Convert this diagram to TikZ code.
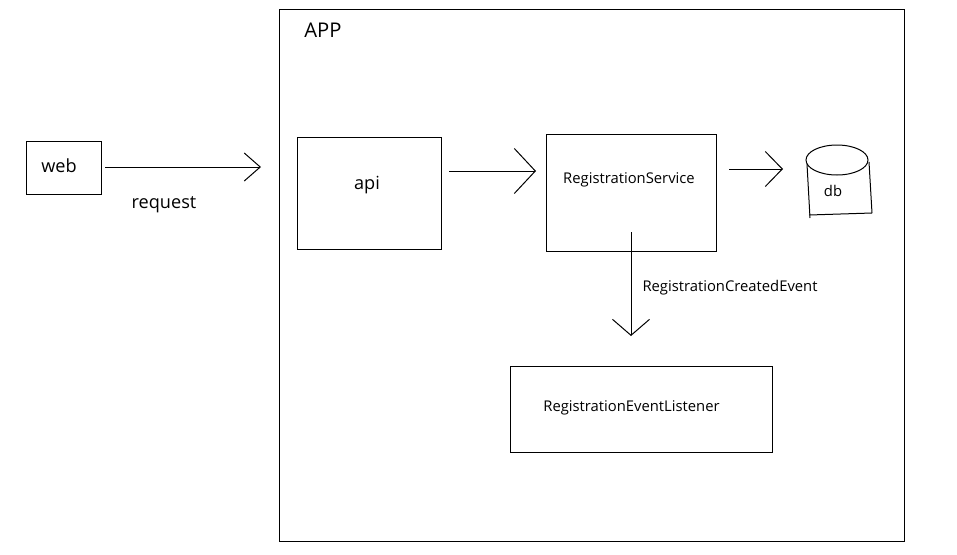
\documentclass[tikz,border=0pt]{standalone}
\usepackage{fontspec}
\setmainfont{Open Sans}
\usetikzlibrary{arrows.meta}
\begin{document}
\begin{tikzpicture}[x=0.75pt,y=-0.75pt,line width=0.75pt,
  box/.style 2 args={draw, rectangle, minimum width=#1*0.75pt, minimum height=#2*0.75pt, inner sep=0pt},
  lbl/.style={inner sep=0pt, font=\fontsize{11.1}{13}\selectfont},
  big/.style={inner sep=0pt, font=\fontsize{13.6}{16}\selectfont}]
\useasboundingbox (0,0) rectangle (957,554);
% boxes
\node[box={625}{532}] (app) at (591.5,275) {};
\node[inner sep=0pt, font=\fontsize{15.2}{18}\selectfont] (applbl) at (323,30) {APP};
\node[box={75}{53}] (web) at (63.5,167.5) {};
\node[big] (webt) at (59,166) {web};
\node[big] (req) at (164,205) {request};
\node[box={144}{112}] (api) at (369,193) {};
\node[big] (apit) at (367,185) {api};
\node[box={170}{117}] (rs) at (631,192.5) {};
\node[lbl] (rst) at (629,180) {RegistrationService};
\node[box={262}{86}] (rel) at (641,409) {};
\node[lbl] (relt) at (631.5,408) {RegistrationEventListener};
\node[lbl, anchor=west] (evt) at (642,288) {RegistrationCreatedEvent};
% db cylinder
\node[inner sep=0pt, font=\fontsize{11.1}{13}\selectfont] (db) at (833,191) {db};
\draw (837,160) ellipse [x radius=23.25pt, y radius=11.25pt];
\draw (807,164) -- (810,218);
\draw (809,215) -- (872,213);
\draw (869,162) -- (872,213);
% arrow end points
\coordinate (reqs) at (105,167); \coordinate (reqe) at (261,167);
\coordinate (apis) at (449,171); \coordinate (apie) at (536,171);
\coordinate (rss) at (729,169); \coordinate (rse) at (783,169);
\coordinate (evs) at (631,232); \coordinate (eve) at (631,336);
\draw[-{Straight Barb[length=12pt, width=21pt]}] (reqs) -- (reqe);
\draw[-{Straight Barb[length=15.75pt, width=33.75pt]}] (apis) -- (apie);
\draw[-{Straight Barb[length=12.75pt, width=26.25pt]}] (rss) -- (rse);
\draw[-{Straight Barb[length=12pt, width=27.75pt]}] (evs) -- (eve);
\end{tikzpicture}
\end{document}
